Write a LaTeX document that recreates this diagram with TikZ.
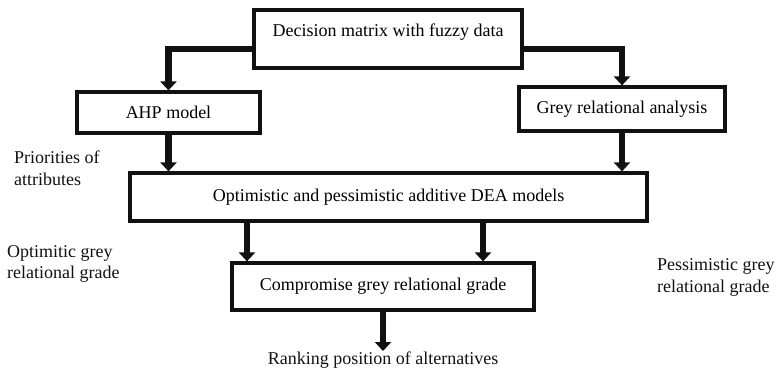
\documentclass[tikz,border=0pt]{standalone}
\usepackage{fontspec}
\setmainfont{Liberation Serif}
\usetikzlibrary{arrows.meta,positioning,calc}
\definecolor{Ink}{HTML}{111111}

\tikzset{
  stepbox/.style={draw=Ink,line width=3.2pt,inner sep=0pt,font=\fontsize{18}{21.5}\selectfont},
  flow/.style={draw=Ink,line width=6.5pt,-{Triangle[width=16pt,length=9pt]}},
  note/.style={font=\fontsize{18}{21.5}\selectfont,align=left,inner sep=1pt,text=Ink}
}

\begin{document}
\begin{tikzpicture}[x=1pt,y=-1pt]
\useasboundingbox (0,0) rectangle (779,370);
% boxes
\node[stepbox,minimum width=268,minimum height=58,text height=12pt,text depth=18pt] (dm) at (388,39) {Decision matrix with fuzzy data};
\node[stepbox,minimum width=183,minimum height=41] (ahp) at (168.5,112.5) {AHP model};
\node[stepbox,minimum width=206,minimum height=44] (gra) at (622,109) {Grey relational analysis};
\node[stepbox,minimum width=517,minimum height=48] (dea) at (388.5,197) {Optimistic and pessimistic additive DEA models};
\node[stepbox,minimum width=302,minimum height=47] (cg) at (383,286.5) {Compromise grey relational grade};
% side texts
\node[note,anchor=west] (prio) at (13,168) {Priorities of\\attributes};
\node[note,anchor=west] (opt) at (6,264) {Optimitic grey\\relational grade};
\node[note,anchor=west] (pes) at (656,277.5) {Pessimistic grey\\relational grade};
\node[note] (rank) at (383,360.5) {Ranking position of alternatives};
\coordinate (o1) at (247,0);
\coordinate (p1) at (483,0);
% connectors
\draw[flow] ([yshift=-10pt]dm.west) -| (ahp.north);
\draw[flow] ([yshift=-10pt]dm.east) -| (gra.north);
\draw[flow] (ahp.south) -- (ahp.south |- dea.north);
\draw[flow] (gra.south) -- (gra.south |- dea.north);
\draw[flow] (dea.south -| o1) -- (cg.north -| o1);
\draw[flow] (dea.south -| p1) -- (cg.north -| p1);
\draw[flow] (cg.south) -- (rank.north);
\end{tikzpicture}
\end{document}
